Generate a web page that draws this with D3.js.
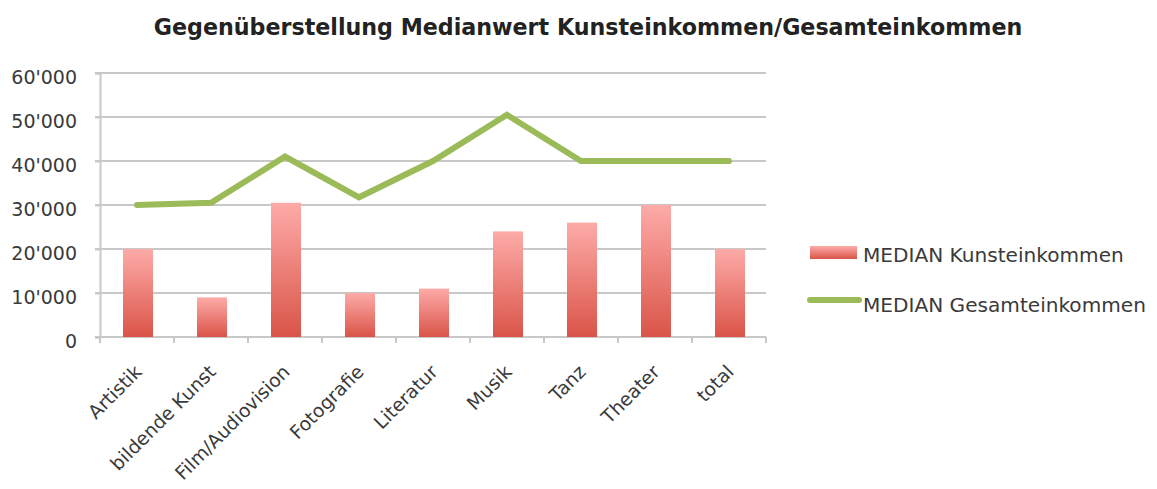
<!DOCTYPE html>
<html>
<head>
<meta charset="utf-8">
<script src="https://cdn.jsdelivr.net/npm/d3@7"></script>
<style>
  body { margin: 0; background: #fff; }
  text { font-family: "DejaVu Sans", sans-serif; fill: #3a3a3a; }
</style>
</head>
<body>
<div id="chart"></div>
<script>
// Data
var categories = ["Artistik", "bildende Kunst", "Film/Audiovision", "Fotografie", "Literatur", "Musik", "Tanz", "Theater", "total"];
var kunstEinkommen = [20000, 9000, 30500, 10000, 11000, 24000, 26000, 30000, 20000];
var gesamtEinkommen = [30000, 30500, 41000, 31750, 40000, 50500, 40000, 40000, 40000];
var yTicks = [0, 10000, 20000, 30000, 40000, 50000, 60000];
var seriesNames = ["MEDIAN Kunsteinkommen", "MEDIAN Gesamteinkommen"];

var width = 1157, height = 489;
var plot = { left: 100, right: 766, top: 73, bottom: 337 };

var svg = d3.select("#chart").append("svg")
    .attr("width", width)
    .attr("height", height);

// Gradient for the bars
var grad = svg.append("defs").append("linearGradient")
    .attr("id", "barGrad")
    .attr("x1", 0).attr("y1", 0).attr("x2", 0).attr("y2", 1);
grad.append("stop").attr("offset", "0%").attr("stop-color", "#fdaba8");
grad.append("stop").attr("offset", "100%").attr("stop-color", "#da5448");

// Scales
var x = d3.scaleBand()
    .domain(categories)
    .range([plot.left, plot.right])
    .paddingInner(0)
    .paddingOuter(0);

var y = d3.scaleLinear()
    .domain([0, 60000])
    .range([plot.bottom, plot.top]);

var fmt = function (v) { return v === 0 ? "0" : d3.format(",")(v).replace(",", "'"); };

// Title
svg.append("text")
    .attr("x", 588)
    .attr("y", 35)
    .attr("text-anchor", "middle")
    .style("font-size", "22.2px")
    .style("font-weight", "bold")
    .style("fill", "#222")
    .text("Gegenüberstellung Medianwert Kunsteinkommen/Gesamteinkommen");

// Gridlines
svg.append("g").selectAll("line")
    .data(yTicks.slice(1))
    .enter().append("line")
    .attr("x1", plot.left - 5)
    .attr("x2", plot.right)
    .attr("y1", function (d) { return y(d); })
    .attr("y2", function (d) { return y(d); })
    .attr("stroke", "#c8c8c8")
    .attr("stroke-width", 2);

// Y axis
var yAxis = svg.append("g")
    .attr("transform", "translate(" + plot.left + ",0)")
    .call(d3.axisLeft(y).tickValues(yTicks).tickFormat(fmt).tickSize(5).tickPadding(18));
yAxis.select(".domain").attr("stroke", "#c8c8c8").attr("stroke-width", 2);
yAxis.selectAll(".tick line").attr("stroke", "#c8c8c8").attr("stroke-width", 2);
yAxis.selectAll("text")
    .attr("dy", "0.55em")
    .style("font-size", "19px")
    .style("fill", "#3a3a3a")
    .style("font-family", "DejaVu Sans, sans-serif");

// X axis baseline and tick marks at category boundaries
svg.append("line")
    .attr("x1", plot.left - 5).attr("x2", plot.right)
    .attr("y1", plot.bottom).attr("y2", plot.bottom)
    .attr("stroke", "#c8c8c8").attr("stroke-width", 2);

var bounds = categories.map(function (c) { return x(c); }).concat([plot.right]);
svg.append("g").selectAll("line")
    .data(bounds)
    .enter().append("line")
    .attr("x1", function (d) { return d; })
    .attr("x2", function (d) { return d; })
    .attr("y1", plot.bottom)
    .attr("y2", plot.bottom + 6)
    .attr("stroke", "#c8c8c8")
    .attr("stroke-width", 2);

// X labels
svg.append("g").selectAll("text")
    .data(categories)
    .enter().append("text")
    .attr("transform", function (d) {
        return "translate(" + (x(d) + x.bandwidth() / 2 + 6) + "," + (plot.bottom + 36) + ") rotate(-45)";
    })
    .attr("text-anchor", "end")
    .style("font-size", "18.8px")
    .text(function (d) { return d; });

// Bars
var barW = 30;
svg.append("g").selectAll("rect")
    .data(kunstEinkommen)
    .enter().append("rect")
    .attr("x", function (d, i) { return x(categories[i]) + x.bandwidth() / 2 - barW / 2 + 1; })
    .attr("y", function (d) { return y(d); })
    .attr("width", barW)
    .attr("height", function (d) { return plot.bottom - y(d); })
    .attr("fill", "url(#barGrad)");

// Line
var line = d3.line()
    .x(function (d, i) { return x(categories[i]) + x.bandwidth() / 2; })
    .y(function (d) { return y(d); });

svg.append("path")
    .datum(gesamtEinkommen)
    .attr("d", line)
    .attr("fill", "none")
    .attr("stroke", "#9bbb59")
    .attr("stroke-width", 6)
    .attr("stroke-linecap", "round")
    .attr("stroke-linejoin", "miter");

// Legend
var legend = svg.append("g");
legend.append("rect")
    .attr("x", 810).attr("y", 246)
    .attr("width", 47).attr("height", 13)
    .attr("fill", "url(#barGrad)");
legend.append("text")
    .attr("x", 863).attr("y", 262)
    .style("font-size", "20.1px")
    .text(seriesNames[0]);
legend.append("line")
    .attr("x1", 810).attr("x2", 859)
    .attr("y1", 300).attr("y2", 300)
    .attr("stroke", "#9bbb59")
    .attr("stroke-width", 6)
    .attr("stroke-linecap", "round");
legend.append("text")
    .attr("x", 863).attr("y", 312)
    .style("font-size", "20.1px")
    .text(seriesNames[1]);
</script>
</body>
</html>
